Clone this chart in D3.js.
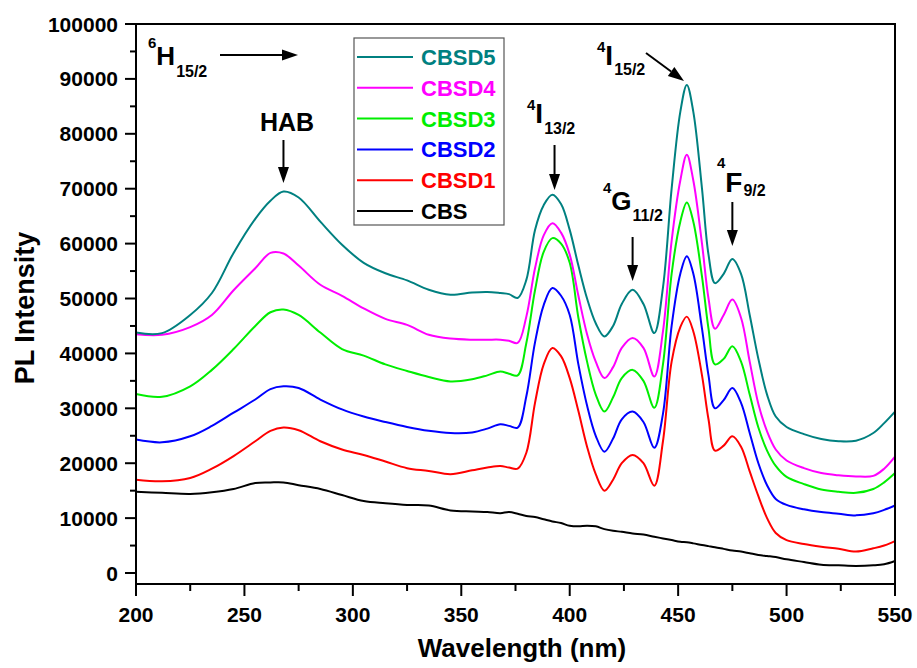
<!DOCTYPE html>
<html>
<head>
<meta charset="utf-8">
<script src="https://cdn.jsdelivr.net/npm/d3@7/dist/d3.min.js"></script>
<style>
  html, body { margin: 0; padding: 0; background: #ffffff; }
  svg { display: block; }
  text { font-family: "Liberation Sans", Arial, Helvetica, sans-serif; font-weight: bold; }
</style>
</head>
<body>
<svg id="chart" width="917" height="668"></svg>
<script>
// ---------------- DATA ----------------
const wavelengths = [200, 212, 225, 235, 245, 255, 262, 268, 275, 285, 295, 305, 315, 325, 335, 345, 355, 362, 368, 372, 376, 380, 384, 388, 392, 396, 400, 404, 408, 412, 416, 420, 424, 429, 434, 439, 443, 447, 451, 454, 457, 461, 464, 467, 471, 475, 479, 483, 487, 491, 495, 500, 508, 516, 524, 532, 540, 545, 550];

const CBSD5 = [43800, 43700, 47000, 51000, 58300, 64500, 67800, 69500, 68400, 64000, 59800, 56500, 54600, 53300, 51600, 50700, 51100, 51200, 51000, 50800, 50100, 53400, 62500, 67000, 68900, 67200, 62500, 56000, 50000, 45500, 43100, 45000, 49000, 51600, 49000, 43700, 52000, 70000, 84000, 88900, 84000, 70000, 58000, 52800, 54500, 57200, 54500, 47000, 39000, 32500, 28500, 26600, 25300, 24400, 24000, 24100, 25500, 27300, 29400];

const CBSD4 = [43500, 43400, 44800, 47000, 51500, 55500, 58300, 58200, 56000, 52500, 50500, 48200, 46300, 45200, 43400, 42700, 42500, 42500, 42500, 42300, 41900, 46700, 55500, 61500, 63700, 62000, 58000, 50500, 43500, 38500, 35500, 37500, 41000, 42800, 41000, 35800, 44000, 60500, 71500, 76200, 71500, 60000, 50000, 44500, 47000, 49800, 46500, 38500, 30800, 25800, 22500, 20500, 19100, 18200, 17800, 17600, 17700, 19000, 21200];

const CBSD3 = [32600, 32100, 34000, 37000, 40800, 45000, 47500, 48000, 47000, 43800, 40800, 39600, 38000, 36800, 35700, 34900, 35300, 36000, 36700, 36300, 36000, 41900, 51500, 58500, 61000, 60000, 56500, 46500, 38500, 32500, 29400, 32000, 35500, 37000, 35000, 30100, 38000, 54500, 64000, 67500, 64000, 54000, 44500, 38000, 39000, 41300, 38500, 32500, 26500, 22300, 19500, 17500, 16200, 15200, 14800, 14600, 15300, 16500, 18200];

const CBSD2 = [24300, 23800, 24900, 26800, 29200, 31600, 33500, 34000, 33700, 31600, 29800, 28500, 27500, 26600, 25900, 25500, 25600, 26300, 27100, 26800, 26500, 32200, 42000, 48800, 51900, 50500, 47000, 38000, 30500, 25000, 22100, 24500, 28000, 29400, 27500, 22800, 29000, 45000, 54500, 57700, 54500, 44500, 36000, 30000, 31500, 33700, 31000, 25500, 20000, 16000, 13500, 12400, 11600, 11100, 10800, 10500, 10900, 11500, 12300];

const CBSD1 = [17000, 16700, 17300, 19000, 21300, 24000, 25900, 26500, 26000, 24000, 22500, 21500, 20300, 19100, 18600, 18000, 18700, 19200, 19500, 19200, 19000, 21900, 31000, 38000, 41000, 39500, 35500, 29500, 23000, 18000, 15000, 17000, 20000, 21500, 20000, 15900, 24000, 38500, 44800, 46700, 44000, 36000, 28000, 22300, 23200, 24900, 23000, 18500, 14000, 10000, 7300, 6000, 5300, 4800, 4400, 3900, 4500, 5000, 5800];

const CBS = [14800, 14600, 14400, 14700, 15300, 16400, 16500, 16500, 16000, 15300, 14200, 13100, 12700, 12400, 12300, 11400, 11200, 11100, 10900, 11100, 10800, 10400, 10200, 9800, 9400, 9100, 8600, 8500, 8600, 8500, 8000, 7700, 7500, 7200, 7000, 6600, 6300, 6000, 5700, 5600, 5400, 5100, 4900, 4700, 4400, 4100, 3900, 3600, 3300, 3100, 2900, 2500, 2000, 1500, 1400, 1300, 1400, 1600, 2200];

const seriesNames = ["CBS", "CBSD1", "CBSD2", "CBSD3", "CBSD4", "CBSD5"];
const seriesValues = [CBS, CBSD1, CBSD2, CBSD3, CBSD4, CBSD5];
const seriesColors = ["#000000", "#ff0000", "#0000ff", "#00ee00", "#ff00ff", "#008080"];
const legendOrder = ["CBSD5", "CBSD4", "CBSD3", "CBSD2", "CBSD1", "CBS"];

const xTicks = [200, 250, 300, 350, 400, 450, 500, 550];
const xMinorTicks = [225, 275, 325, 375, 425, 475, 525];
const yTicks = [0, 10000, 20000, 30000, 40000, 50000, 60000, 70000, 80000, 90000, 100000];
const yMinorTicks = [5000, 15000, 25000, 35000, 45000, 55000, 65000, 75000, 85000, 95000];

const annotations = [
  { sup: "6", main: "H", sub: "15/2" },
  { sup: "4", main: "I", sub: "13/2" },
  { sup: "4", main: "I", sub: "15/2" },
  { sup: "4", main: "G", sub: "11/2" },
  { sup: "4", main: "F", sub: "9/2" }
];

// ---------------- LAYOUT ----------------
const svg = d3.select("#chart");
const L = 136, R = 895, T = 24, B = 584;
const x = d3.scaleLinear().domain([200, 550]).range([L, R]);
const y = d3.scaleLinear().domain([-2000, 100000]).range([B, T]);

const line = d3.line()
  .x((d, i) => x(wavelengths[i]))
  .y(d => y(d))
  .curve(d3.curveCatmullRom.alpha(0.5));

const g = svg.append("g");
seriesValues.forEach((vals, k) => {
  g.append("path")
    .attr("d", line(vals))
    .attr("fill", "none")
    .attr("stroke", seriesColors[k])
    .attr("stroke-width", 2)
    .attr("stroke-linejoin", "round");
});

// frame
svg.append("rect")
  .attr("x", L).attr("y", T).attr("width", R - L).attr("height", B - T)
  .attr("fill", "none").attr("stroke", "#000").attr("stroke-width", 2);

// left ticks
yTicks.forEach(v => {
  svg.append("line").attr("x1", L - 11).attr("x2", L).attr("y1", y(v)).attr("y2", y(v))
    .attr("stroke", "#000").attr("stroke-width", 2);
  svg.append("text").attr("x", L - 18).attr("y", y(v) + 7.5)
    .attr("text-anchor", "end").attr("font-size", 21).text(v);
});
yMinorTicks.forEach(v => {
  svg.append("line").attr("x1", L - 6).attr("x2", L).attr("y1", y(v)).attr("y2", y(v))
    .attr("stroke", "#000").attr("stroke-width", 2);
});
// bottom ticks
xTicks.forEach(v => {
  svg.append("line").attr("x1", x(v)).attr("x2", x(v)).attr("y1", B).attr("y2", B + 12)
    .attr("stroke", "#000").attr("stroke-width", 2);
  svg.append("text").attr("x", x(v)).attr("y", 622)
    .attr("text-anchor", "middle").attr("font-size", 21).text(v);
});
xMinorTicks.forEach(v => {
  svg.append("line").attr("x1", x(v)).attr("x2", x(v)).attr("y1", B).attr("y2", B + 7)
    .attr("stroke", "#000").attr("stroke-width", 2);
});

// axis titles
svg.append("text").attr("x", 522).attr("y", 657)
  .attr("text-anchor", "middle").attr("font-size", 26).text("Wavelength (nm)");
svg.append("text").attr("transform", "translate(34,308) rotate(-90)")
  .attr("text-anchor", "middle").attr("font-size", 27).text("PL Intensity");

// legend
const lg = svg.append("g");
lg.append("rect").attr("x", 354).attr("y", 38).attr("width", 150).attr("height", 187)
  .attr("fill", "#fff").attr("stroke", "#555").attr("stroke-width", 1.2);
legendOrder.forEach((name, i) => {
  const k = seriesNames.indexOf(name);
  const cy = 57 + i * 30.8;
  lg.append("line").attr("x1", 357).attr("x2", 413).attr("y1", cy).attr("y2", cy)
    .attr("stroke", seriesColors[k]).attr("stroke-width", 2);
  lg.append("text").attr("x", 421).attr("y", cy + 8).attr("font-size", 22)
    .attr("fill", seriesColors[k]).text(name);
});

function termLabel(a, x0, supY, mainY, subY, mainSize) {
  const t = svg.append("text").attr("x", x0).attr("y", supY);
  t.append("tspan").attr("font-size", 15).text(a.sup);
  t.append("tspan").attr("font-size", mainSize).attr("dy", mainY - supY).text(a.main);
  t.append("tspan").attr("font-size", 16).attr("dy", subY - mainY).attr("dx", 1).text(a.sub);
}
function arrow(x1, y1, x2, y2) {
  const ang = Math.atan2(y2 - y1, x2 - x1);
  const len = 16, w = 5.5;
  const bx = x2 - len * Math.cos(ang), by = y2 - len * Math.sin(ang);
  svg.append("line").attr("x1", x1).attr("y1", y1).attr("x2", bx).attr("y2", by)
    .attr("stroke", "#000").attr("stroke-width", 2);
  const px = -Math.sin(ang) * w, py = Math.cos(ang) * w;
  svg.append("path")
    .attr("d", `M${x2},${y2}L${bx + px},${by + py}L${bx - px},${by - py}Z`)
    .attr("fill", "#000");
}

termLabel(annotations[0], 148, 48, 65, 77, 26);
arrow(220, 55, 298, 55);

svg.append("text").attr("x", 287).attr("y", 131).attr("text-anchor", "middle")
  .attr("font-size", 25).text("HAB");
arrow(x(268), 140, x(268), 183);

termLabel(annotations[1], 527, 110, 123, 134, 28);
arrow(x(393), 145, x(393), 190);

termLabel(annotations[2], 597, 52, 65, 75, 28);
arrow(646, 53, 684, 81);

termLabel(annotations[3], 603, 193, 210, 221, 26);
arrow(x(429), 237, x(429), 281);

termLabel(annotations[4], 717, 168, 192, 196, 28);
arrow(x(475), 202, x(475), 246);
</script>
</body>
</html>
